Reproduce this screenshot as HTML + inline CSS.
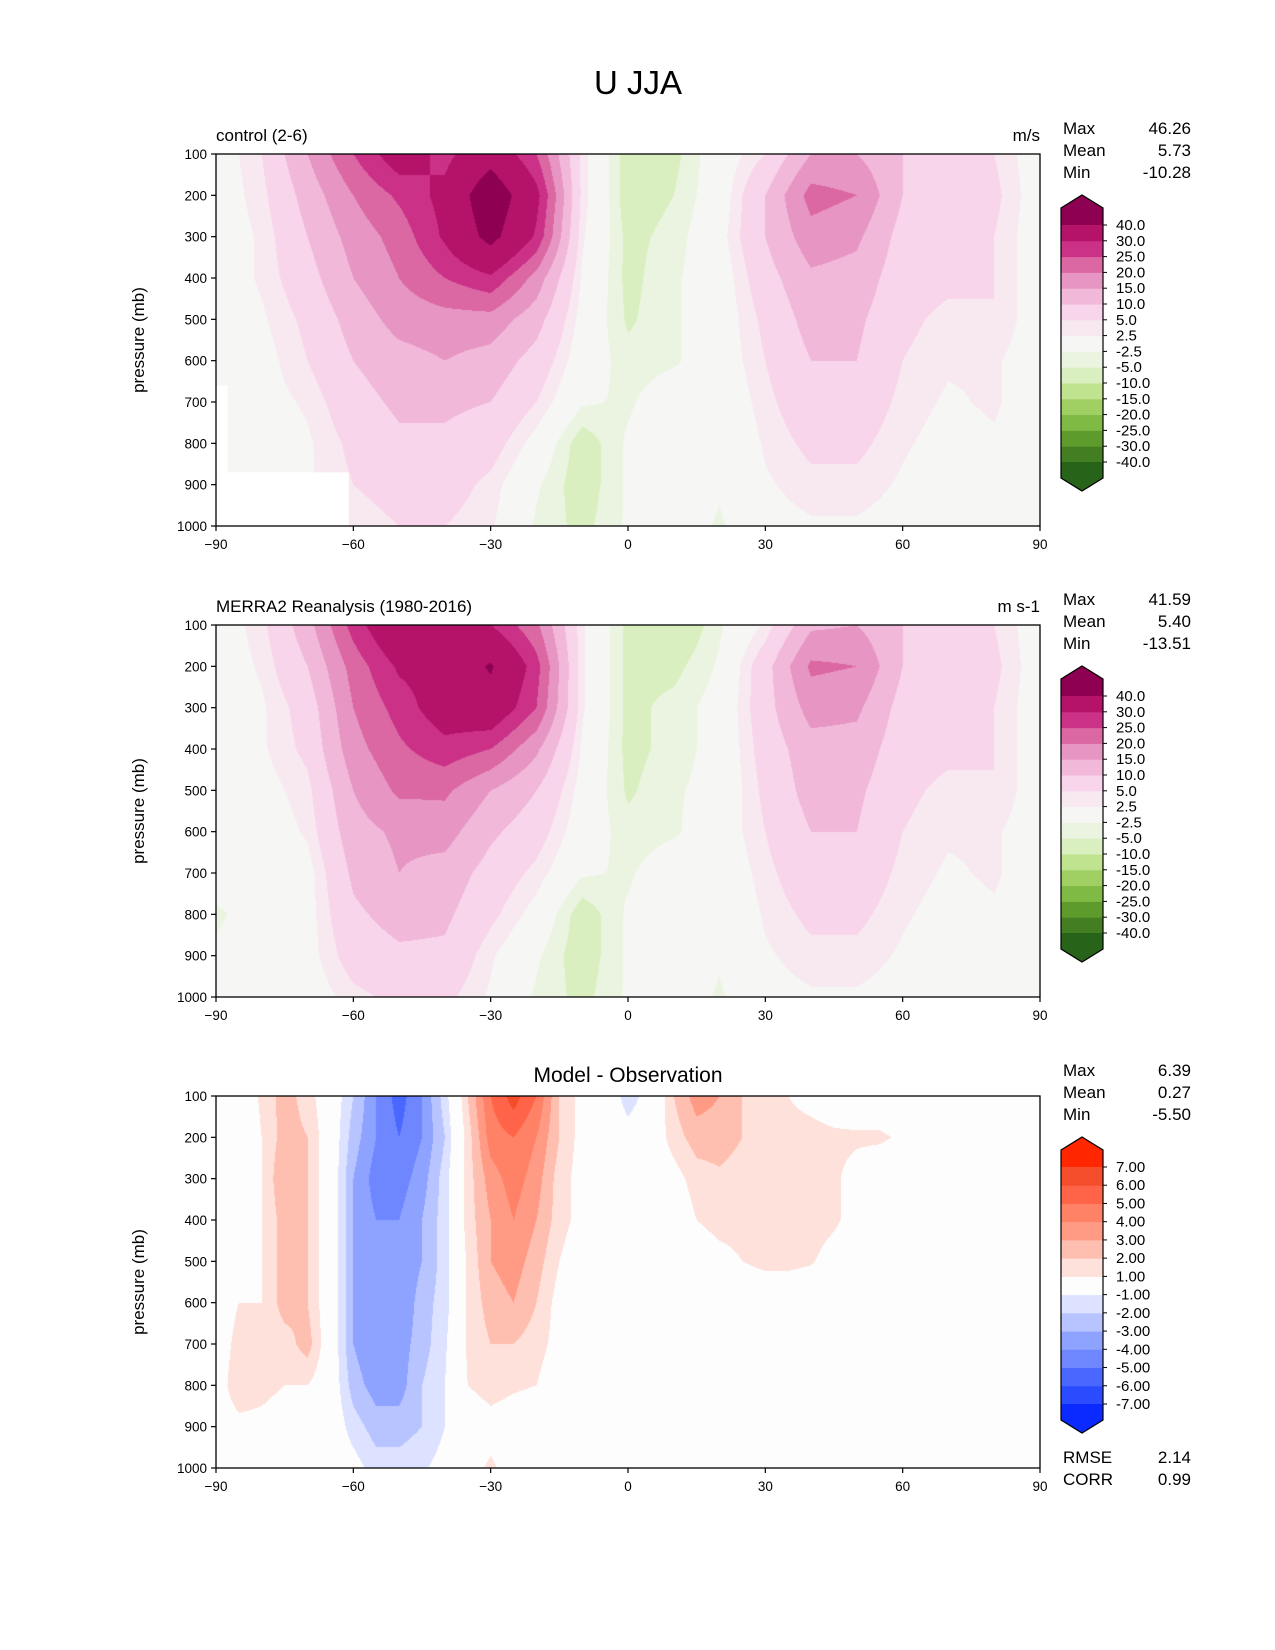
<!DOCTYPE html>
<html><head><meta charset="utf-8"><title>U JJA</title>
<style>
body{margin:0;background:#fff;}
#wrap{position:relative;width:1275px;height:1650px;overflow:hidden;background:#fff;font-family:"Liberation Sans","DejaVu Sans",sans-serif;}
canvas{position:absolute;}
svg{position:absolute;left:0;top:0;}
</style></head>
<body>
<div id="wrap">
<canvas id="c0" width="824" height="372" style="left:216px;top:154px"></canvas>
<canvas id="c1" width="824" height="372" style="left:216px;top:625px"></canvas>
<canvas id="c2" width="824" height="372" style="left:216px;top:1096px"></canvas>
<svg id="s" width="1275" height="1650"></svg>
</div>
<script>
// ---- data ----
const lat10 = [-90,-80,-70,-60,-50,-40,-30,-20,-10,0,10,20,30,40,50,60,70,80,90];
const lat5 = [-90,-85,-80,-75,-70,-65,-60,-55,-50,-45,-40,-35,-30,-25,-20,-15,-10,-5,0,5,10,15,20,25,30,35,40,45,50,55,60,65,70,75,80,85,90];
const pressures = [100,200,300,400,500,600,700,800,900,1000];
const xTicks = [-90,-60,-30,0,30,60,90];
const yTicks = [100,200,300,400,500,600,700,800,900,1000];
const modelU = [
[0,5,15,25,34,28,36,25,4,-7,-6,0,5,15,15,10,8,5,0],
[0,4,12,20,26,32,47,32,4,-7,-5,0,10,22,20,10,8,6,0],
[0,3,10,17,22,31,43,29,3,-6,-4,1,10,18,16,8,7,5,0],
[0,3,8,15,20,25,29,18,2,-6,-3,0,8,14,13,7,6,5,0],
[0,2,6,12,17,18,18,12,1,-5.5,-3,0,6,12,11,6,4,5,0],
[0,1,5,10,13,15,13,8,0,-4,-3,0,5,10,10,5,3,3,0],
[-1,1,3,8,11,11,10,5,-2,-3,0,-1,4,8,8,4,2,3,0],
[-3,0,2,6,9,9,7,1,-7,-2,1,-2,3,6,6,3,1,2,0],
[0,0,2,5,7,7,4,-2,-7,-2,1,-2,2,4,4,2,0,1,0],
[0,0,1,3,5,5,3,-3,-6,-2,0,-3,1,2,2,1,0,0,0]];
const obsU = [
[0,4,13,27,38,30,30,21,3,-6,-9,-3,3,14,15,10,8,5,0],
[0,3,10,22,31,33,41,27,3,-6,-6,-2,8,21,20,10,8,6,0],
[0,2,7,20,27,34,36,25,3,-6,-4,-1,8,17,16,8,7,5,0],
[0,2,6,18,24,28,25,16,2,-6,-4,-1,7,13,13,7,6,5,0],
[0,1,4,15,21,21,15,10,1,-5.5,-3,-1,6,12,11,6,4,5,0],
[0,0,3,13,16,17,11,7,0,-4,-3,0,5,10,10,5,3,3,0],
[-1,0,1,11,15,13,8,4,-2,-3,0,-1,4,8,8,4,2,3,0],
[-3,-1,1,9,12,11,6,1,-7,-2,1,-2,3,6,6,3,1,2,0],
[-2,0,1,7,9,9,3,-2,-7,-2,1,-2,2,4,4,2,0,1,0],
[-1,0,0,4,6,6,2,-3,-6,-2,0,-3,1,2,2,1,0,0,0]];
const diffU = [
[0,0,1.2,2.5,1.5,0,-2,-4,-5.5,-4,-1.5,2,5,6.5,5,2,0.5,0,-1.5,-0.5,2,3.5,3,2,1.5,1,0.5,0,0,0,0,0,0,0,0,0,0],
[0,0,1,2.5,2,0,-2.5,-4,-5,-4,-2,1.5,4.5,5,4,2,0.5,0,-0.5,0,1.5,2.5,2.5,2,1.8,1.5,1.5,1.3,1.2,1.2,0.8,0,0,0,0,0,0],
[0,0,1,3,2,0,-3,-4.5,-4.5,-3.5,-1.5,1.5,3.5,4.5,3.5,1.5,0.5,0,0,0,0.5,1.5,1.8,1.5,1.5,1.5,1.5,1.2,0.5,0,0,0,0,0,0,0,0],
[0,0,1,2.5,2,0,-3,-4,-4,-3,-1.5,1.5,3,4,3,1.5,0.5,0,0,0,0,1,1.5,1.5,1.5,1.5,1.5,1.2,0.5,0,0,0,0,0,0,0,0],
[0,0.5,1,2.5,2,0,-3,-4,-4,-3,-1.5,1.2,3,3.5,2.5,1,0,0,0,0,0,0,0.5,1,1.3,1.3,1.1,0.5,0,0,0,0,0,0,0,0,0],
[0,1,1,2.5,2,0,-3,-4,-4,-2.5,-1.5,1.2,2.5,3,2,0.5,0,0,0,0,0,0,0,0,0,0,0,0,0,0,0,0,0,0,0,0,0],
[0,1.5,1.2,1.5,2.5,0,-3,-4,-3.5,-2.5,-1.2,1.2,2,2,1.5,0.5,0,0,0,0,0,0,0,0,0,0,0,0,0,0,0,0,0,0,0,0,0],
[0,2,1.5,1,1,0,-2.5,-3.5,-3.5,-2,-1,1,1.5,1.2,1,0,0,0,0,0,0,0,0,0,0,0,0,0,0,0,0,0,0,0,0,0,0],
[0,0.5,0.5,0,0,0,-1.5,-2.5,-2.5,-2,-1,0,0.5,0.2,0,0,0,0,0,0,0,0,0,0,0,0,0,0,0,0,0,0,0,0,0,0,0],
[0,0,0.5,0,0,0,-0.5,-1.5,-1.5,-1.2,-0.5,0.5,1.2,0.5,0,0,0,0,0,0,0,0,0,0,0,0,0,0,0,0,0,0,0,0,0,0,0]];
const uLevels = [-40,-30,-25,-20,-15,-10,-5,-2.5,2.5,5,10,15,20,25,30,40];
const uLabels = ["-40.0","-30.0","-25.0","-20.0","-15.0","-10.0","-5.0","-2.5","2.5","5.0","10.0","15.0","20.0","25.0","30.0","40.0"];
const uColors = ["#276419","#437f22","#5e9b2d","#7fba44","#a0d064","#bfe38e","#d9efbf","#ebf4e0","#f6f6f5","#f8e9f1","#f8d5ea","#f1b8da","#e795c3","#db67a3","#ca3187","#b5136a","#8e0152"];
const dLevels = [-7,-6,-5,-4,-3,-2,-1,1,2,3,4,5,6,7];
const dLabels = ["-7.00","-6.00","-5.00","-4.00","-3.00","-2.00","-1.00","1.00","2.00","3.00","4.00","5.00","6.00","7.00"];
const dColors = ["#0a2aff","#2b4bff","#4a68ff","#6e87ff","#8ea2ff","#b8c4ff","#dce2ff","#fdfdfd","#ffe1db","#ffbfb0","#ff9a85","#ff8266","#ff6448","#f44d2c","#ff2600"];
const maskLat0 = [-90,-90];
const maskLat1 = [-61,-87.5];
const maskP0 = [870,660];
const maskP1 = [1000,870];
const statNames = ["Max","Mean","Min"];
const statsModel = ["46.26","5.73","-10.28"];
const statsObs = ["41.59","5.40","-13.51"];
const statsDiff = ["6.39","0.27","-5.50"];

// ---- geometry ----
const L=216,R=1040,H=372,tops=[154,625,1096];
const NS="http://www.w3.org/2000/svg";
const svg=document.getElementById('s');
function xs(lat){return L+(lat+90)/180*(R-L);}
function ys(top,p){return top+(p-100)/900*H;}
function el(tag,attrs,parent){const e=document.createElementNS(NS,tag);for(const k in attrs)e.setAttribute(k,attrs[k]);(parent||svg).appendChild(e);return e;}
function txt(s,x,y,size,anchor,name,extra){const t=el('text',Object.assign({x:x,y:y,'font-size':size,'text-anchor':anchor||'start','font-family':'"Liberation Sans","DejaVu Sans",sans-serif',fill:'#000'},extra||{}));t.textContent=s;


return t;}

function drawField(id,lats,grid,levels,colors){
  const c=document.getElementById(id),ctx=c.getContext('2d');
  const img=ctx.createImageData(c.width,c.height);
  const rgb=colors.map(h=>[parseInt(h.substr(1,2),16),parseInt(h.substr(3,2),16),parseInt(h.substr(5,2),16)]);
  const nl=lats.length,np=pressures.length;
  for(let py=0;py<c.height;py++){
    const p=100+(py+0.5)/c.height*900;
    let fi=(p-pressures[0])/(pressures[np-1]-pressures[0])*(np-1);
    fi=Math.max(0,Math.min(np-1.0001,fi));const i0=Math.floor(fi),ti=fi-i0;
    for(let px=0;px<c.width;px++){
      const lat=-90+(px+0.5)/c.width*180;
      let fj=(lat-lats[0])/(lats[nl-1]-lats[0])*(nl-1);
      fj=Math.max(0,Math.min(nl-1.0001,fj));const j0=Math.floor(fj),tj=fj-j0;
      const v=(grid[i0][j0]*(1-tj)+grid[i0][j0+1]*tj)*(1-ti)+(grid[i0+1][j0]*(1-tj)+grid[i0+1][j0+1]*tj)*ti;
      let k=0;while(k<levels.length&&levels[k]<=v)k++;
      const col=rgb[k],o=(py*c.width+px)*4;
      img.data[o]=col[0];img.data[o+1]=col[1];img.data[o+2]=col[2];img.data[o+3]=255;
    }
  }
  ctx.putImageData(img,0,0);
}
drawField('c0',lat10,modelU,uLevels,uColors);
drawField('c1',lat10,obsU,uLevels,uColors);
drawField('c2',lat5,diffU,dLevels,dColors);

for(let i=0;i<maskLat0.length;i++){
  const m=el('rect',{x:xs(maskLat0[i]),y:ys(tops[0],maskP0[i]),width:xs(maskLat1[i])-xs(maskLat0[i]),height:ys(tops[0],maskP1[i])-ys(tops[0],maskP0[i]),fill:'#fff'});
  
  
}

function axes(pi){
  const top=tops[pi];
  const g=el('g',{});
  
  
  const f=el('rect',{x:L,y:top,width:R-L,height:H,fill:'none',stroke:'#000','stroke-width':1.3},g);
  
  
  xTicks.forEach(v=>{
    const x=xs(v);
    const t=el('line',{x1:x,y1:top+H,x2:x,y2:top+H+5,stroke:'#000','stroke-width':1.2},g);
    
    
    txt(v<0?'\u2212'+(-v):String(v),x,top+H+23,13.5,'middle','x-tick-label');
  });
  yTicks.forEach(v=>{
    const y=ys(top,v);
    const t=el('line',{x1:L-5,y1:y,x2:L,y2:y,stroke:'#000','stroke-width':1.2},g);
    
    
    txt(String(v),L-9,y+5,13.5,'end','y-tick-label');
  });
  txt('pressure (mb)',0,0,17,'middle','y-axis-title',{transform:'translate(144,'+(top+H/2)+') rotate(-90)'});
}
[0,1,2].forEach(axes);

function colorbar(pi,levels,labels,colors){
  const o=tops[pi]-154, x0=1061,x1=1103,xc=1082;
  const yTop=225+o,yBot=462+o,n=levels.length-1,seg=(yBot-yTop)/n;
  const g=el('g',{});
  
  
  for(let i=0;i<n;i++){
    const r=el('rect',{x:x0,y:yBot-(i+1)*seg,width:x1-x0,height:seg+0.5,fill:colors[i+1]},g);
    
    
  }
  const up=el('polygon',{points:`${x0},${yTop} ${x0},${yTop-17} ${xc},${yTop-30} ${x1},${yTop-17} ${x1},${yTop}`,fill:colors[colors.length-1]},g);
  
  
  const dn=el('polygon',{points:`${x0},${yBot} ${x0},${yBot+16} ${xc},${yBot+29} ${x1},${yBot+16} ${x1},${yBot}`,fill:colors[0]},g);
  
  
  const ol=el('polygon',{points:`${x0},${yTop-17} ${xc},${yTop-30} ${x1},${yTop-17} ${x1},${yBot+16} ${xc},${yBot+29} ${x0},${yBot+16}`,fill:'none',stroke:'#000','stroke-width':1.2},g);
  
  
  labels.forEach((s,i)=>{const y=yBot-i*seg;
    const t=el('line',{x1:x1,y1:y,x2:x1+4,y2:y,stroke:'#000','stroke-width':1},g);
    
    
    txt(s,1116,y+5,15,'start','colorbar-label');});
}
colorbar(0,uLevels,uLabels,uColors);
colorbar(1,uLevels,uLabels,uColors);
colorbar(2,dLevels,dLabels,dColors);

function stats(pi,vals){
  const top=tops[pi];
  statNames.forEach((n,i)=>{
    txt(n,1063,top-20+i*22,17,'start','stat-name-'+n.toLowerCase());
    txt(vals[i],1191,top-20+i*22,17,'end','stat-value-'+n.toLowerCase());
  });
}
stats(0,statsModel);stats(1,statsObs);stats(2,statsDiff);

txt('U JJA',638,94,33,'middle','figure-title');
txt('control (2-6)',216,141,17,'start','panel-title-control');
txt('m/s',1040,141,17,'end','units-label');
txt('MERRA2 Reanalysis (1980-2016)',216,612,17,'start','panel-title-merra2');
txt('m s-1',1040,612,17,'end','units-label');
txt('Model - Observation',628,1082,21,'middle','panel-title-difference');
txt('RMSE',1063,1463,17,'start','rmse-label');
txt('2.14',1191,1463,17,'end','rmse-value');
txt('CORR',1063,1485,17,'start','corr-label');
txt('0.99',1191,1485,17,'end','corr-value');
</script>
</body></html>
